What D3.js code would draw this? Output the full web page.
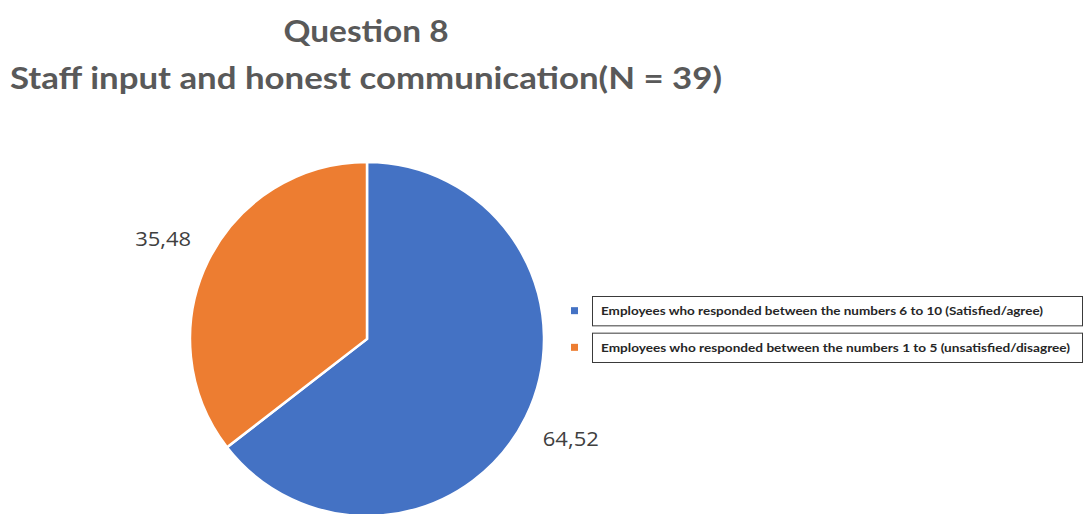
<!DOCTYPE html>
<html>
<head>
<meta charset="utf-8">
<script src="https://cdn.jsdelivr.net/npm/d3@7"></script>
<style>
  html, body { margin: 0; padding: 0; background: #fff; }
  svg { display: block; }
</style>
</head>
<body>
<svg id="chart" width="1086" height="514"></svg>
<script>
// Survey responses, Question 8 (percent of respondents)
const categories = [
  "Employees who responded between the numbers 6 to 10 (Satisfied/agree)",
  "Employees who responded between the numbers 1 to 5 (unsatisfied/disagree)"
];
const values = [64.52, 35.48];
const valueLabels = ["64,52", "35,48"];
const titleLines = ["Question 8", "Staff input and honest communication(N = 39)"];
const colors = ["#4472C4", "#ED7D31"];

const svg = d3.select("#chart");

// Title
const titleCfg = [
  { y: 42, size: 30, width: 165 },
  { y: 89, size: 31, width: 712 }
];
svg.selectAll("text.title")
  .data(titleLines)
  .join("text")
  .attr("class", "title")
  .attr("x", 366)
  .attr("y", (d, i) => titleCfg[i].y)
  .attr("text-anchor", "middle")
  .attr("font-family", "Lato, 'Open Sans', sans-serif")
  .attr("font-weight", "bold")
  .attr("font-size", (d, i) => titleCfg[i].size)
  .attr("textLength", (d, i) => titleCfg[i].width)
  .attr("lengthAdjust", "spacingAndGlyphs")
  .attr("fill", "#595959")
  .text(d => d);

// Pie
const cx = 367, cy = 339, r = 177;
const pie = d3.pie().sort(null).value(d => d);
const arcs = pie(values);
const arc = d3.arc().innerRadius(0).outerRadius(r);
const labelArc = d3.arc().innerRadius(227).outerRadius(227);

const g = svg.append("g").attr("transform", `translate(${cx},${cy})`);
g.selectAll("path")
  .data(arcs)
  .join("path")
  .attr("d", arc)
  .attr("fill", (d, i) => colors[i])
  .attr("stroke", "#ffffff")
  .attr("stroke-width", 2.5)
  .attr("stroke-linejoin", "miter");

g.selectAll("text.val")
  .data(arcs)
  .join("text")
  .attr("class", "val")
  .attr("transform", d => {
    const [x, y] = labelArc.centroid(d);
    return `translate(${x},${y})`;
  })
  .attr("text-anchor", "middle")
  .attr("dy", "0.35em")
  .attr("font-family", "'Open Sans', 'Liberation Sans', sans-serif")
  .attr("font-size", 20.5)
  .attr("textLength", 56)
  .attr("lengthAdjust", "spacingAndGlyphs")
  .attr("fill", "#404040")
  .text((d, i) => valueLabels[i]);

// Legend
const legend = svg.append("g");
const legY = d3.scaleBand().domain(categories).range([296, 362]).paddingInner(0.2);
const item = legend.selectAll("g")
  .data(categories)
  .join("g")
  .attr("transform", d => `translate(0,${legY(d)})`);

item.append("rect")
  .attr("x", 592.5)
  .attr("y", 0.5)
  .attr("width", 490)
  .attr("height", legY.bandwidth())
  .attr("fill", "#fff")
  .attr("stroke", "#3a3a3a")
  .attr("stroke-width", 1);

item.append("rect")
  .attr("x", 571)
  .attr("y", legY.bandwidth() / 2 - 3.5)
  .attr("width", 7)
  .attr("height", 7)
  .attr("fill", (d, i) => colors[i]);

item.append("text")
  .attr("x", 601)
  .attr("y", legY.bandwidth() / 2)
  .attr("dy", "0.35em")
  .attr("font-family", "Lato, 'Open Sans', sans-serif")
  .attr("font-weight", "bold")
  .attr("font-size", 12)
  .attr("fill", "#262626")
  .attr("textLength", (d, i) => i === 0 ? 442 : 469)
  .attr("lengthAdjust", "spacingAndGlyphs")
  .text(d => d);
</script>
</body>
</html>
